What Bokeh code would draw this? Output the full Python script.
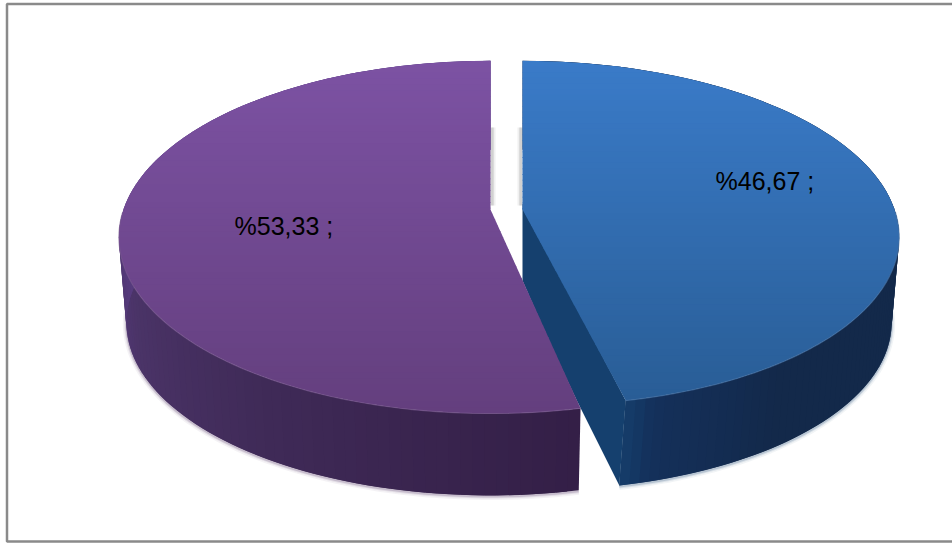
import math
from bokeh.models import ColumnDataSource, Range1d
from bokeh.plotting import figure
from bokeh.embed import file_html
from bokeh.resources import INLINE
from bokeh.core.properties import value

# Shares in percent and their printed labels
shares = [46.67, 53.33]
labels = ["%46,67 ;", "%53,33 ;"]

# Styling per slice: top face gradient (far, near), wall colour stops along the arc
top_colors = [("#3a7bc8", "#295d96"), ("#7c52a3", "#643f7e")]
wall_stops = [
    [(0.0, "#13294a"), (0.85, "#13294a"), (0.97, "#14305a"), (1.0, "#153f6e")],
    [(0.0, "#341f47"), (0.22, "#3f2a57"), (0.4, "#4b3468"), (0.58, "#5a3d85"), (1.0, "#5a3d85")],
]
apex_x = [522.0, 490.0]
radius_x = [372.0, 367.0]
# Exploded slice: its near tip sits slightly to the right and higher
near_shift = [(13.0, 8.0, 8.0, 5.0), (0.0, 0.0, 0.0, 0.0)]
label_pos = [(715, 180), (234, 225)]

W, H = 952, 543
APEX_Y = 209.0
B, K = 172.0, 0.157
DEPTH, INSET = 86.0, 0.98


def hex_rgb(h):
    return tuple(int(h[i:i + 2], 16) for i in (1, 3, 5))


def mix(a, b, f):
    ca, cb = hex_rgb(a), hex_rgb(b)
    return "#%02x%02x%02x" % tuple(round(x + (y - x) * f) for x, y in zip(ca, cb))


def ramp(stops, f):
    for (f0, c0), (f1, c1) in zip(stops, stops[1:]):
        if f <= f1:
            return mix(c0, c1, (f - f0) / (f1 - f0))
    return stops[-1][1]


def project(i, t, lower=False):
    """Tilted circle point at angle t, seen in perspective; lower=True gives the base rim."""
    X, Y = math.cos(t), math.sin(t)
    w = 1 + K * Y
    s = INSET if lower else 1.0
    dx_top, dy_top, dx_low, dy_low = near_shift[i]
    near = max(0.0, -Y)
    dx = (dx_low if lower else dx_top) * near ** 4
    dy = (dy_low if lower else dy_top) * near ** 2
    return (apex_x[i] + s * radius_x[i] * X / w + dx,
            APEX_Y + (DEPTH if lower else 0.0) - s * B * Y / w - dy)


def clip_band(poly, y0, y1):
    """Clip a polygon to the horizontal band y0..y1."""
    def clip(pts, inside, cross):
        out = []
        for i, p in enumerate(pts):
            q = pts[(i + 1) % len(pts)]
            if inside(p):
                out.append(p)
            if inside(p) != inside(q):
                out.append(cross(p, q))
        return out

    def at(yv):
        return lambda p, q: (p[0] + (q[0] - p[0]) * (yv - p[1]) / (q[1] - p[1]), yv)

    res = clip(poly, lambda p: p[1] >= y0, at(y0))
    if res:
        res = clip(res, lambda p: p[1] <= y1, at(y1))
    return res


p = figure(width=W, height=H, x_range=Range1d(0, W), y_range=Range1d(H, 0),
           output_backend="svg", toolbar_location=None, min_border=0)
p.axis.visible = False
p.grid.visible = False
p.outline_line_color = None
p.background_fill_color = "white"
p.border_fill_color = "white"

# Chart frame
p.line([W + 2, 6.5, 6.5, W + 2], [3.5, 3.5, 541, 541], line_color="#8a8a8a", line_width=2.5)

# Narrow fading shadows along the gap between the slices
for offset, alpha in ((0, 0.45), (1.5, 0.3), (3, 0.15)):
    p.patch([490 + offset, 492 + offset, 492 + offset, 490 + offset], [127, 127, 205, 205],
            fill_color="#9a9a9a", fill_alpha=alpha, line_color=None)
    p.patch([522 - offset, 520 - offset, 520 - offset, 522 - offset], [127, 127, 205, 205],
            fill_color="#9a9a9a", fill_alpha=alpha, line_color=None)

angle = math.pi / 2
slices = []
for i, share in enumerate(shares):
    sweep = 2 * math.pi * share / sum(shares)
    slices.append((i, angle, sweep))
    angle -= sweep

for i, start, sweep in slices:
    cx = apex_x[i]
    n = 120
    ts = [start - sweep * j / n for j in range(n + 1)]
    rim = [project(i, t) for t in ts]
    base = [project(i, t, lower=True) for t in ts]

    # Soft contact shadow under the base rim
    front = [b for b, t in zip(base, ts) if math.sin(t) < 0.05]
    for width, alpha in ((7, 0.07), (4, 0.12), (2, 0.22)):
        p.line([b[0] for b in front], [b[1] + 1 for b in front],
               line_color=mix(top_colors[i][1], "#606060", 0.3), line_width=width, line_alpha=alpha)

    # Outer wall, painted in narrow strips
    xs, ys, cs = [], [], []
    for j in range(n):
        a, b = rim[j], rim[min(j + 2, n)]
        c, d = base[min(j + 2, n)], base[j]
        xs.append([a[0], b[0], c[0], d[0]])
        ys.append([a[1], b[1], c[1], d[1]])
        cs.append(ramp(wall_stops[i], j / n))
    p.patches("xs", "ys", fill_color="cs", line_color=None,
              source=ColumnDataSource(dict(xs=xs, ys=ys, cs=cs)))

    # Cut face of the slice; its lower edge runs on behind the neighbouring slice
    if i == 0:
        e_top, e_base = rim[-1], base[-1]
        p.patch([cx, e_top[0], e_base[0], e_base[0] - 42, cx + 26, cx],
                [APEX_Y - 6, e_top[1], e_base[1], e_base[1] - 84, APEX_Y + 131, APEX_Y + 71],
                fill_color="#15406e", line_color=None)

    # Top face, painted in horizontal bands for the vertical gradient
    poly = [(cx, APEX_Y)] + rim
    ymin, ymax = min(q[1] for q in poly), max(q[1] for q in poly)
    nb = 60
    xs, ys, cs = [], [], []
    for b in range(nb):
        y0 = ymin + (ymax - ymin) * b / nb
        y1 = ymin + (ymax - ymin) * (b + 1) / nb + 0.8
        band = clip_band(poly, y0, y1)
        if len(band) >= 3:
            xs.append([q[0] for q in band])
            ys.append([q[1] for q in band])
            cs.append(mix(top_colors[i][0], top_colors[i][1], b / (nb - 1)))
    p.patches("xs", "ys", fill_color="cs", line_color=None,
              source=ColumnDataSource(dict(xs=xs, ys=ys, cs=cs)))

    # Pale highlight on the front rim
    front = [q for q, t in zip(rim, ts) if math.sin(t) < 0.0]
    p.line([q[0] for q in front], [q[1] for q in front],
           line_color=mix(top_colors[i][1], "#ffffff", 0.15), line_width=1.2, line_alpha=0.6)

    # Slice label
    lx, ly = label_pos[i]
    p.text([lx], [ly], text=[labels[i]], text_font=value("Liberation Sans"),
           text_font_size="25px", text_color="#000000",
           text_align="left", text_baseline="middle")

open("out.html", "w").write(file_html(p, INLINE))
